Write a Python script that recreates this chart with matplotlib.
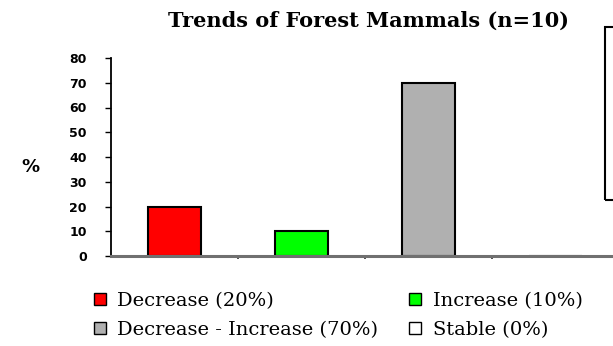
import matplotlib
matplotlib.use("Agg")
import matplotlib.pyplot as plt
from matplotlib.patches import Rectangle, Patch

categories = ["Decrease", "Increase", "Decrease - Increase", "Stable"]
values = [20, 10, 70, 0]
legend_labels = ["Decrease (20%)", "Increase (10%)", "Decrease - Increase (70%)", "Stable (0%)"]
colors = ["#FF0000", "#00FF00", "#B0B0B0", "#FFFFFF"]
yticks = [0, 10, 20, 30, 40, 50, 60, 70, 80]
title = "Trends of Forest Mammals (n=10)"

W, H = 613, 346
fig = plt.figure(figsize=(W / 100, H / 100), dpi=100)
ax = fig.add_axes([111 / W, 90 / H, 508 / W, 198 / H])

x = list(range(len(categories)))
ax.bar(x, values, width=0.41, color=colors, edgecolor="black", linewidth=1.5, zorder=2)
ax.set_xlim(-0.5, 3.5)
ax.set_ylim(0, 80)
ax.set_yticks(yticks)
ax.set_yticklabels([str(v) for v in yticks], fontsize=9, fontweight="bold", family="DejaVu Sans")
ax.tick_params(axis="y", length=4.5, width=1, pad=13, color="black")
ax.set_xticks([0.5, 1.5, 2.5, 3.5])
ax.set_xticklabels([])
ax.tick_params(axis="x", length=2.5, width=1.2, color="#333333")
for s in ["top", "right"]:
    ax.spines[s].set_visible(False)
ax.spines["left"].set_linewidth(1.3)
ax.spines["bottom"].set_color("#707070")
ax.spines["bottom"].set_linewidth(2.2)
ax.spines["bottom"].set_zorder(3)

fig.text(368 / W, 1 - 21 / H, title, ha="center", va="center",
         family="DejaVu Serif", fontweight="bold", fontsize=15)
fig.text(30 / W, 1 - 167 / H, "%", ha="center", va="center",
         family="DejaVu Sans", fontweight="bold", fontsize=13)

# partially visible box on right edge
fig.patches.append(Rectangle((605 / W, 1 - 200 / H), 0.1, 173 / H, transform=fig.transFigure,
                             fill=False, edgecolor="black", linewidth=1.5, clip_on=False))

order = [0, 2, 1, 3]
handles = [Patch(facecolor=colors[i], edgecolor="black", linewidth=1.0) for i in order]
labels = [legend_labels[i] for i in order]
fig.legend(handles, labels, ncol=2, loc="upper left", bbox_to_anchor=(94 / W, 1 - 292 / H),
           frameon=False, prop={"family": "DejaVu Serif", "size": 14},
           handlelength=0.6, handleheight=0.6, handletextpad=0.6, columnspacing=1.6,
           labelspacing=0.55, borderpad=0.0, borderaxespad=0.0)

fig.savefig("out.png", dpi=100)
